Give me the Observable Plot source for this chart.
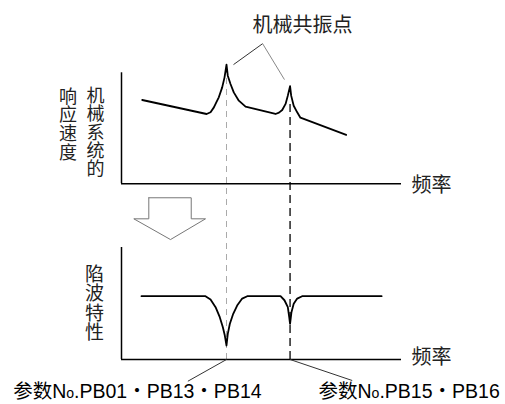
<!DOCTYPE html>
<html>
<head>
<meta charset="utf-8">
<script src="https://cdn.jsdelivr.net/npm/d3@7"></script>
<script src="https://cdn.jsdelivr.net/npm/@observablehq/plot@0.6"></script>
<style>
  html, body { margin: 0; padding: 0; background: #fff; }
  #chart { width: 505px; height: 404px; }
</style>
</head>
<body>
<div id="chart"></div>
<script>
// ---- Data (frequency units 0–100, level units 0–100 per panel) ----
// Mechanical system response speed (top panel)
const respFreq  = [7.4, 30.4, 31.8, 33.0, 33.9, 34.75, 35.96, 36.8, 37.5, 37.96, 38.93, 40.1, 41.9, 44.3, 55.0, 56.25, 57.4, 58.6, 59.4, 60.2, 60.6, 61.5, 62.75, 63.9, 80.25];
const respLevel = [74.7, 62.2, 63.8, 68.1, 72.8, 77.1, 86.0, 94.9, 106.3, 96.4, 89.0, 81.5, 74.1, 68.75, 62.2, 63.4, 65.8, 71.2, 78.6, 87.05, 78.6, 69.6, 63.7, 58.9, 43.5];
// Notch characteristic (bottom panel)
const notchFreq = [7.14, 30.0, 31.8, 33.6, 35.1, 36.2, 36.9, 37.5, 37.96, 38.7, 39.9, 41.3, 43.1, 44.9, 56.8, 58.2, 59.4, 59.9, 60.2, 60.7, 61.5, 62.75, 64.5, 92.9];
const notchGain = [56.5, 56.5, 53.6, 46.7, 37.8, 28.8, 21.4, 12.5, 22.9, 31.9, 40.8, 48.2, 54.4, 56.5, 56.5, 52.9, 46.7, 37.8, 31.9, 42.2, 49.7, 54.4, 56.5, 56.5];
// Resonance frequencies
const resonanceFreqs = [37.5, 60.2];
const resonancePeaks = [106.3, 87.05];
// Texts
const titleText = "机械共振点";
const topYLabelA = "机械系统的";
const topYLabelB = "响应速度";
const bottomYLabel = "陷波特性";
const xLabel = "频率";
const paramLabels = ["参数No.PB01・PB13・PB14", "参数No.PB15・PB16"];

// ---- Layout constants (in scale units) ----
const TOP = 157;          // baseline of upper panel in y units
const PANEL_H = 100;      // panel axis height
// Arrow outline (diagram units)
const arrowX = [9.75, 24.9, 24.9, 30, 17.5, 4.4, 9.75, 9.75];
const arrowY = [144.4, 144.4, 125.6, 125.6, 107.1, 125.6, 125.6, 144.4];

const resp = respFreq.map((f, i) => ({f, v: respLevel[i] + TOP}));
const notch = notchFreq.map((f, i) => ({f, v: notchGain[i]}));
const arrow = arrowX.map((x, i) => ({x, y: arrowY[i]}));

const cjk = "'Liberation Sans', Arial, 'Noto Sans CJK SC', sans-serif";

const plot = Plot.plot({
  width: 505,
  height: 404,
  margin: 0,
  x: {domain: [0, 100], range: [121, 401], axis: null},
  y: {domain: [0, 100], range: [359, 247], axis: null},
  style: {background: "#fff", fontFamily: cjk, overflow: "visible"},
  marks: [
    // dashed guides at resonance frequencies
    Plot.ruleX([resonanceFreqs[0]], {y1: 0, y2: resonancePeaks[0] + TOP - 1, stroke: "#aaa", strokeWidth: 1, strokeDasharray: "6,5"}),
    Plot.ruleX([resonanceFreqs[1]], {y1: 0, y2: resonancePeaks[1] + TOP - 14, stroke: "#000", strokeWidth: 1.3, strokeDasharray: "8,5"}),
    // axes
    Plot.ruleY([TOP], {x1: 0, x2: 100, stroke: "#000", strokeWidth: 1.5}),
    Plot.ruleX([0], {y1: TOP, y2: TOP + PANEL_H - 1, stroke: "#000", strokeWidth: 1.5}),
    Plot.ruleY([0], {x1: 0, x2: 100, stroke: "#000", strokeWidth: 1.5}),
    Plot.ruleX([0], {y1: 0, y2: PANEL_H, stroke: "#000", strokeWidth: 1.5}),
    // curves
    Plot.line(resp, {x: "f", y: "v", stroke: "#000", strokeWidth: 1.8, strokeLinejoin: "round"}),
    Plot.line(notch, {x: "f", y: "v", stroke: "#000", strokeWidth: 1.8, strokeLinejoin: "round"}),
    // leader lines from title to resonance peaks
    Plot.link([0], {x1: 40, y1: 263.3, x2: 50.4, y2: 282, stroke: "#333", strokeWidth: 1}),
    Plot.link([0], {x1: 50.4, y1: 282, x2: 58.2, y2: 249.9, stroke: "#888", strokeWidth: 1}),
    // leader lines to parameter labels
    Plot.link([0], {x1: resonanceFreqs[0], y1: 0, x2: 23.7, y2: -19.4, stroke: "#333", strokeWidth: 1}),
    Plot.link([0], {x1: resonanceFreqs[1], y1: 0, x2: 82.4, y2: -18.75, stroke: "#333", strokeWidth: 1}),
    // hollow arrow
    Plot.line(arrow, {x: "x", y: "y", stroke: "#777", strokeWidth: 1, fill: "none", curve: "linear"}),
    // texts
    Plot.text([titleText], {x: 64.6, y: 298.2, text: d => d, fontSize: 20, fill: "#222", textAnchor: "middle", lineAnchor: "middle"}),
    Plot.text([topYLabelA.split("").join("\n")], {x: -9.3, y: 202.4, text: d => d, fontSize: 18, lineHeight: 1.02, fill: "#222", textAnchor: "middle", lineAnchor: "middle"}),
    Plot.text([topYLabelB.split("").join("\n")], {x: -19.1, y: 209.6, text: d => d, fontSize: 18, lineHeight: 1.04, fill: "#222", textAnchor: "middle", lineAnchor: "middle"}),
    Plot.text([bottomYLabel.split("").join("\n")], {x: -9.64, y: 49.7, text: d => d, fontSize: 19, lineHeight: 1.01, fill: "#222", textAnchor: "middle", lineAnchor: "middle"}),
    Plot.text([xLabel, xLabel], {x: [103.6, 103.6], y: [155.2, 2.0], text: d => d, fontSize: 20, fill: "#222", textAnchor: "start", lineAnchor: "middle"}),
    Plot.text(paramLabels, {x: [-38.7, 70.36], y: [-29.2, -29.2], text: d => d, fontSize: 19.5, fill: "#000", textAnchor: "start", lineAnchor: "middle", className: "param"})
  ]
});

document.getElementById("chart").appendChild(plot);

// render the small "o" of "No." like the original
d3.select(plot).selectAll("text").each(function() {
  const el = d3.select(this);
  const t = this.textContent;
  if (this.querySelector("tspan") || t.indexOf("No.") < 0) return;
  const [a, b] = t.split("No.");
  el.text(null);
  el.append("tspan").text(a + "N");
  el.append("tspan").attr("font-size", "0.72em").text("o");
  el.append("tspan").text("." + b);
});
</script>
</body>
</html>
